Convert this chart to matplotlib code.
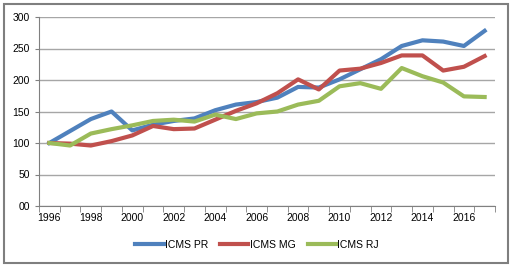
import matplotlib
matplotlib.use("Agg")
import matplotlib.pyplot as plt
from matplotlib.patches import Rectangle

years = list(range(1996, 2018))
icms_pr = [100, 119, 138, 150, 120, 129, 135, 139, 152, 161, 165, 172, 189, 188,
           201, 217, 233, 254, 263, 261, 254, 278]
icms_mg = [100, 99, 96, 103, 112, 127, 122, 123, 137, 151, 163, 179, 201, 185,
           215, 218, 227, 239, 239, 215, 221, 238]
icms_rj = [100, 96, 115, 122, 128, 135, 137, 134, 145, 138, 147, 150, 161, 167,
           190, 195, 186, 219, 206, 196, 174, 173]
y_ticks = [0, 50, 100, 150, 200, 250, 300]
y_labels = ["00", "50", "100", "150", "200", "250", "300"]

plt.rcParams["font.family"] = ["Liberation Sans", "DejaVu Sans"]

fig = plt.figure(figsize=(5.14, 2.68), dpi=100)
ax = fig.add_axes([39 / 514, 62 / 268, 456 / 514, 189 / 268])

ax.plot(years, icms_pr, color="#4F81BD", lw=3, label="ICMS PR")
ax.plot(years, icms_mg, color="#C0504D", lw=3, label="ICMS MG")
ax.plot(years, icms_rj, color="#9BBB59", lw=3, label="ICMS RJ")

ax.set_xlim(1995.5, 2017.5)
ax.set_ylim(0, 300)
ax.set_yticks(y_ticks)
ax.set_yticklabels(y_labels)
ax.set_xticks(years[::2])
ax.set_xticks([y - 0.5 for y in years] + [2017.5], minor=True)
ax.tick_params(axis="x", which="major", length=0, labelsize=7.5, pad=5)
ax.tick_params(axis="x", which="minor", length=4, color="#808080")
ax.tick_params(axis="y", length=3, color="#808080", labelsize=7.5)
ax.grid(axis="y", color="#a6a6a6", lw=1)
ax.set_axisbelow(True)
for s in ["top", "right"]:
    ax.spines[s].set_visible(False)
ax.spines["left"].set_color("#808080")
ax.spines["bottom"].set_color("#808080")

fig.legend(loc="center", bbox_to_anchor=(257 / 514, 23 / 268), ncol=3, frameon=False,
           fontsize=7.5, handlelength=2.7, handletextpad=0.1, columnspacing=1.2)

fig.add_artist(Rectangle((4 / 514, 5 / 268), 504 / 514, 259 / 268, transform=fig.transFigure,
                         fill=False, edgecolor="#7f7f7f", lw=1.5))

fig.savefig("out.png", dpi=100)
